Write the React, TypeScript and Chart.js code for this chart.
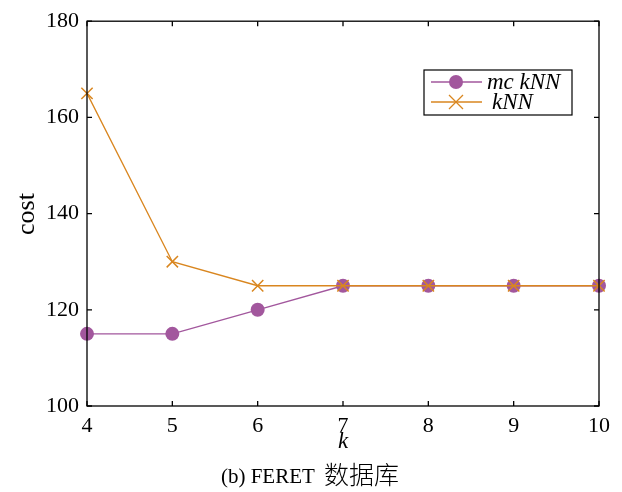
import React, { useEffect, useRef } from "react";
import { Chart, registerables } from "chart.js";

Chart.register(...registerables);

const kValues = [4, 5, 6, 7, 8, 9, 10];
const mcKnnCost = [115, 115, 120, 125, 125, 125, 125];
const knnCost = [165, 130, 125, 125, 125, 125, 125];
const yTicks = [100, 120, 140, 160, 180];
const seriesNames = ["mc kNN", "kNN"];
const xTitle = "k";
const yTitle = "cost";
const captionLatin = "(b) FERET ";
const captionCJK = "数据库";

const PURPLE = "#a2579d";
const ORANGE = "#d9861f";
const SERIF = '"Liberation Serif", "Times New Roman", "Noto Sans CJK SC", serif';
const CJK = '"Noto Sans CJK SC", sans-serif';

const framePlugin = {
  id: "framePlugin",
  afterDraw(chart: any) {
    const { ctx, chartArea: a, scales } = chart;
    const xs = scales.x;
    const ys = scales.y;
    ctx.save();
    ctx.strokeStyle = "#000";
    ctx.lineWidth = 1.3;
    ctx.strokeRect(a.left, a.top, a.right - a.left, a.bottom - a.top);
    const tl = 5;
    ctx.beginPath();
    kValues.forEach((v) => {
      const px = xs.getPixelForValue(v);
      ctx.moveTo(px, a.bottom);
      ctx.lineTo(px, a.bottom - tl);
      ctx.moveTo(px, a.top);
      ctx.lineTo(px, a.top + tl);
    });
    yTicks.forEach((v) => {
      const py = ys.getPixelForValue(v);
      ctx.moveTo(a.left, py);
      ctx.lineTo(a.left + tl, py);
      ctx.moveTo(a.right, py);
      ctx.lineTo(a.right - tl, py);
    });
    ctx.stroke();

    // axis titles
    ctx.fillStyle = "#000";
    ctx.font = "italic 23px " + SERIF;
    ctx.textAlign = "center";
    ctx.textBaseline = "middle";
    ctx.fillText(xTitle, (a.left + a.right) / 2, 442);
    ctx.save();
    ctx.translate(27, 214);
    ctx.rotate(-Math.PI / 2);
    ctx.font = "26px " + SERIF;
    ctx.fillText(yTitle, 0, 0);
    ctx.restore();

    // caption
    ctx.textAlign = "left";
    ctx.textBaseline = "alphabetic";
    ctx.font = "21px " + SERIF;
    const w1 = ctx.measureText(captionLatin).width + 4;
    ctx.font = "300 25px " + CJK;
    const w2 = ctx.measureText(captionCJK).width;
    const cx0 = 310 - (w1 + w2) / 2;
    ctx.font = "21px " + SERIF;
    ctx.fillText(captionLatin, cx0, 483);
    ctx.font = "300 25px " + CJK;
    ctx.fillText(captionCJK, cx0 + w1, 484);

    // legend
    const bx = 424, by = 70, bw = 148, bh = 45;
    ctx.fillStyle = "#fff";
    ctx.fillRect(bx, by, bw, bh);
    ctx.strokeStyle = "#000";
    ctx.lineWidth = 1.2;
    ctx.strokeRect(bx, by, bw, bh);
    const rows = [
      { y: 82, color: PURPLE, name: seriesNames[0], marker: "circle", tx: 487 },
      { y: 102, color: ORANGE, name: seriesNames[1], marker: "cross", tx: 492 },
    ];
    rows.forEach((r) => {
      ctx.strokeStyle = r.color;
      ctx.lineWidth = 1.3;
      ctx.beginPath();
      ctx.moveTo(431, r.y);
      ctx.lineTo(482, r.y);
      ctx.stroke();
      if (r.marker === "circle") {
        ctx.fillStyle = r.color;
        ctx.beginPath();
        ctx.arc(456, r.y, 7, 0, Math.PI * 2);
        ctx.fill();
      } else {
        ctx.beginPath();
        ctx.moveTo(456 - 7, r.y - 7);
        ctx.lineTo(456 + 7, r.y + 7);
        ctx.moveTo(456 - 7, r.y + 7);
        ctx.lineTo(456 + 7, r.y - 7);
        ctx.stroke();
      }
      ctx.fillStyle = "#000";
      ctx.font = "italic 23px " + SERIF;
      ctx.textAlign = "left";
      ctx.textBaseline = "middle";
      ctx.fillText(r.name, r.tx, r.y + 1);
    });
    ctx.restore();
  },
};

export default function App() {
  const ref = useRef<HTMLCanvasElement | null>(null);
  useEffect(() => {
    document.body.style.margin = "0";
    const canvas = ref.current;
    if (!canvas) return;
    const chart = new Chart(canvas, {
      type: "line",
      data: {
        datasets: [
          {
            label: seriesNames[1],
            data: kValues.map((x, i) => ({ x, y: knnCost[i] })),
            borderColor: ORANGE,
            backgroundColor: ORANGE,
            borderWidth: 1.3,
            pointStyle: "crossRot",
            pointRadius: 8,
            pointBorderWidth: 1.5,
            pointBorderColor: ORANGE,
            clip: false as any,
          },
          {
            label: seriesNames[0],
            data: kValues.map((x, i) => ({ x, y: mcKnnCost[i] })),
            borderColor: PURPLE,
            backgroundColor: PURPLE,
            borderWidth: 1.3,
            pointStyle: "circle",
            pointRadius: 7,
            pointBorderWidth: 0,
            clip: false as any,
          },
        ],
      },
      options: {
        responsive: false,
        animation: false,
        layout: { padding: { top: 16, right: 23, left: 0, bottom: 0 } },
        plugins: { legend: { display: false }, tooltip: { enabled: false } },
        scales: {
          x: {
            type: "linear",
            min: 4,
            max: 10,
            grid: { display: false, drawTicks: false },
            border: { display: false },
            afterFit: (s: any) => {
              s.height = 86;
            },
            ticks: {
              stepSize: 1,
              padding: 7,
              color: "#000",
              font: { family: SERIF, size: 22 },
            },
          },
          y: {
            min: 100,
            max: 180,
            grid: { display: false, drawTicks: false },
            border: { display: false },
            afterFit: (s: any) => {
              s.width = 87;
            },
            ticks: {
              stepSize: 20,
              padding: 8,
              color: "#000",
              font: { family: SERIF, size: 22 },
            },
          },
        },
      },
      plugins: [framePlugin],
    });
    return () => chart.destroy();
  }, []);
  return (
    <div style={{ width: 622, height: 492, background: "#fff" }}>
      <canvas ref={ref} width={622} height={492} style={{ display: "block" }} />
    </div>
  );
}
